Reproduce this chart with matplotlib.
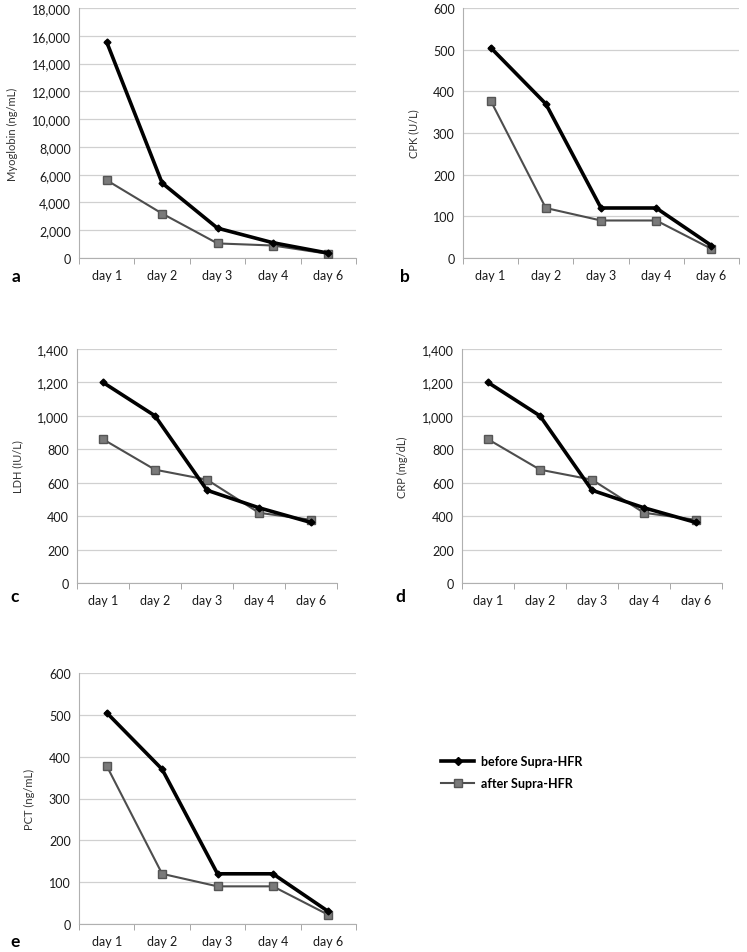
import matplotlib
matplotlib.use("Agg")
import matplotlib.pyplot as plt
from matplotlib.ticker import FuncFormatter

plt.rcParams['font.family'] = ['Lato', 'DejaVu Sans']

days = ["day 1", "day 2", "day 3", "day 4", "day 6"]

myo_before = [15550, 5400, 2150, 1100, 350]
myo_after = [5600, 3200, 1050, 900, 300]

cpk_before = [505, 370, 120, 120, 30]
cpk_after = [378, 120, 90, 90, 22]

ldh_before = [1200, 1000, 555, 450, 362]
ldh_after = [860, 678, 618, 420, 378]

crp_before = [1200, 1000, 555, 450, 362]
crp_after = [860, 678, 618, 420, 378]

pct_before = [505, 370, 120, 120, 30]
pct_after = [378, 120, 90, 90, 22]

W, H = 747, 953
fig = plt.figure(figsize=(W / 100, H / 100), dpi=100)


def box(l, r, t, b):
    return [l / W, 1 - b / H, (r - l) / W, (b - t) / H]


panels = [
    ("a", box(79, 356, 9, 259), myo_before, myo_after, "Myoglobin (ng/mL)", 18000, 2000, (12, 277)),
    ("b", box(463, 739, 9, 259), cpk_before, cpk_after, "CPK (U/L)", 600, 100, (400, 277)),
    ("c", box(77, 337, 350, 584), ldh_before, ldh_after, "LDH (IU/L)", 1400, 200, (10, 597)),
    ("d", box(462, 722, 350, 584), crp_before, crp_after, "CRP (mg/dL)", 1400, 200, (395, 597)),
    ("e", box(79, 356, 674, 925), pct_before, pct_after, "PCT (ng/mL)", 600, 100, (10, 942)),
]

fmt = FuncFormatter(lambda v, p: f"{int(v):,}")

for letter, rect, before, after, ylabel, ymax, step, lpos in panels:
    ax = fig.add_axes(rect)
    x = list(range(len(days)))
    ax.plot(x, before, color="black", lw=2.6, marker="D", ms=3.5, zorder=4)
    ax.plot(x, after, color="#4d4d4d", lw=1.5, marker="s", ms=5.5,
            mfc="#7a7a7a", mec="#555555", zorder=3)
    ax.set_xlim(-0.5, 4.5)
    ax.set_ylim(0, ymax)
    ax.set_yticks(range(0, ymax + 1, step))
    ax.yaxis.set_major_formatter(fmt)
    ax.set_xticks(x)
    ax.set_xticklabels(days)
    ax.set_xticks([i - 0.5 for i in range(6)], minor=True)
    ax.tick_params(axis="x", which="major", length=0, pad=8, labelsize=9, colors="#1a1a1a")
    ax.tick_params(axis="x", which="minor", length=4, color="#999999")
    ax.tick_params(axis="y", length=0, pad=6, labelsize=9, colors="#1a1a1a")
    ax.grid(axis="y", color="#d0d0d0", lw=0.9)
    ax.set_axisbelow(True)
    for s in ["top", "right"]:
        ax.spines[s].set_visible(False)
    ax.spines["left"].set_color("#b0b0b0")
    ax.spines["bottom"].set_color("#b0b0b0")
    ax.set_ylabel(ylabel, fontsize=8, color="#333333", labelpad=10)
    fig.text(lpos[0] / W, 1 - lpos[1] / H, letter, fontsize=12.5, fontweight="bold",
             va="center", ha="left")

h1, = plt.plot([], [], color="black", lw=2.6, marker="D", ms=4)
h2, = plt.plot([], [], color="#4d4d4d", lw=1.5, marker="s", ms=5.5,
               mfc="#7a7a7a", mec="#555555")
fig.legend([h1, h2], ["before Supra-HFR", "after Supra-HFR"],
           loc="upper left", bbox_to_anchor=(430 / W, 1 - 745 / H),
           frameon=False, handlelength=2.6, handletextpad=0.6,
           prop={"size": 9, "weight": "bold"}, labelspacing=0.8)

fig.savefig("out.png", dpi=100)
